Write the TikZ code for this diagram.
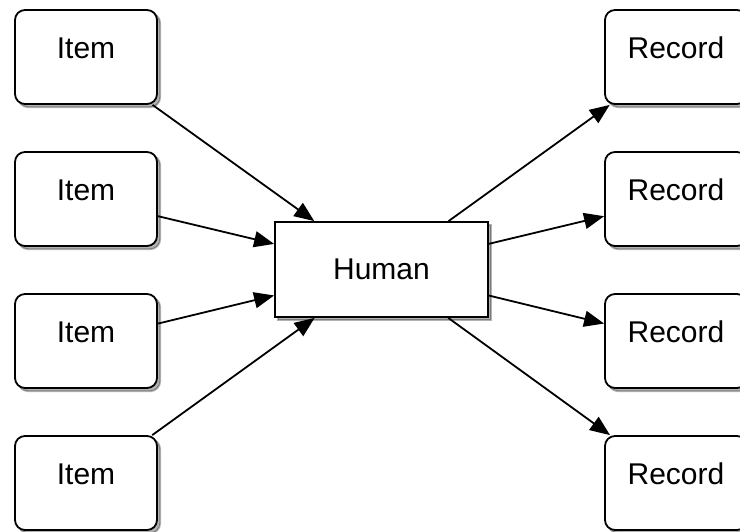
\documentclass[tikz,border=0pt]{standalone}
\usepackage{fontspec}
\setmainfont{Liberation Sans}
\usetikzlibrary{arrows.meta,positioning,shadows}

\begin{document}
\begin{tikzpicture}[x=0.5pt,y=-0.5pt]
  \useasboundingbox (0,0) rectangle (740,531);
  \clip (0,0) rectangle (740,531);
  \begin{scope}[
    box shadow/.style={
      drop shadow={shadow xshift=1.6pt,shadow yshift=-1.6pt,fill=black,opacity=0.3},
    },
    data node/.style={
      draw,
      fill=white,
      line width=0.9pt,
      rounded corners=5pt,
      box shadow,
      minimum width=71pt,
      minimum height=47pt,
      text height=11pt,
      text depth=10pt,
      font=\fontsize{15}{18}\selectfont,
    },
    human node/.style={
      draw,
      fill=white,
      line width=0.9pt,
      box shadow,
      minimum width=106.5pt,
      minimum height=47.5pt,
      font=\fontsize{15}{18}\selectfont,
    },
    node distance=23.1pt,
    every path/.style={draw,line width=0.9pt,-{Triangle[length=10pt,width=8pt]}},
    ]
    \node[human node] (human) at (381.5,269.5) {Human};
    \node[data node] (item-one)   at (86,57) {Item};
    \node[data node,below=of item-one]   (item-two)   {Item};
    \node[data node,below=of item-two]   (item-three) {Item};
    \node[data node,below=of item-three] (item-four)  {Item};
    \node[data node] (record-one) at (676,57) {Record};
    \node[data node,below=of record-one]   (record-two)   {Record};
    \node[data node,below=of record-two]   (record-three) {Record};
    \node[data node,below=of record-three] (record-four)  {Record};
    \path (item-one)   -- (human);
    \path (item-two)   -- (human);
    \path (item-three) -- (human);
    \path (item-four)  -- (human);
    \path (human) -- (record-one);
    \path (human) -- (record-two);
    \path (human) -- (record-three);
    \path (human) -- (record-four);
  \end{scope}
\end{tikzpicture}
\end{document}
